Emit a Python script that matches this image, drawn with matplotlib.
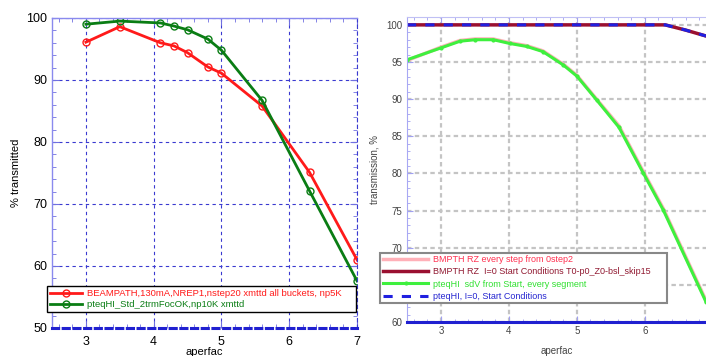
import matplotlib.pyplot as plt
from matplotlib.ticker import MultipleLocator

plt.rcParams['font.family'] = ['Liberation Sans', 'DejaVu Sans']

# left chart data
aperfac_l = [3.0, 3.5, 4.1, 4.3, 4.5, 4.8, 5.0, 5.6, 6.3, 7.0]
beampath = [96.1, 98.6, 96.0, 95.5, 94.4, 92.1, 91.1, 85.8, 75.1, 61.0]
pteqhi = [99.0, 99.5, 99.2, 98.7, 98.1, 96.6, 94.8, 86.7, 72.1, 57.6]
label_bp = "BEAMPATH,130mA,NREP1,nstep20 xmttd all buckets, np5K"
label_pt = "pteqHI_Std_2trmFocOK,np10K xmttd"

# right chart data
aperfac_r = [2.5, 3.0, 3.28, 3.5, 3.77, 4.01, 4.26, 4.5, 4.8, 5.0, 5.29, 5.62, 5.98, 6.27, 6.9]
rz_every = [95.2, 97.0, 97.9, 98.1, 98.1, 97.6, 97.2, 96.5, 94.7, 93.2, 90.0, 86.4, 80.2, 75.3, 62.9]
pteq_every = [95.3, 96.9, 97.8, 98.0, 98.0, 97.5, 97.1, 96.4, 94.6, 93.1, 89.9, 86.2, 80.0, 75.1, 62.7]
aperfac_i0 = [2.5, 3.0, 3.5, 4.0, 4.5, 5.0, 5.5, 6.0, 6.3, 6.6, 6.9]
rz_i0 = [100, 100, 100, 100, 100, 100, 100, 100, 100, 99.3, 98.5]
pteq_i0 = [100, 100, 100, 100, 100, 100, 100, 100, 100, 99.3, 98.5]
labels_r = ["BMPTH RZ every step from 0step2",
            "BMPTH RZ  I=0 Start Conditions T0-p0_Z0-bsl_skip15",
            "pteqHI  sdV from Start, every segment",
            "pteqHI, I=0, Start Conditions"]

fig = plt.figure(figsize=(7.06, 3.56), dpi=100)

# ---------- left ----------
ax = fig.add_axes([52 / 706, 28 / 356, 305 / 706, 310 / 356])
ax.plot(aperfac_l, beampath, color='#ff1a1a', lw=2, marker='o', ms=5,
        mfc='none', mec='#ff1a1a', mew=1, label=label_bp)
ax.plot(aperfac_l, pteqhi, color='#0a7d14', lw=2, marker='o', ms=5,
        mfc='none', mec='#0a7d14', mew=1, label=label_pt)
ax.set_xlim(2.5, 7)
ax.set_ylim(50, 100)
ax.xaxis.set_major_locator(MultipleLocator(1))
ax.xaxis.set_minor_locator(MultipleLocator(0.2))
ax.yaxis.set_major_locator(MultipleLocator(10))
ax.yaxis.set_minor_locator(MultipleLocator(2))
ax.grid(True, which='major', color='#3a3ad0', ls=(0, (3, 3)), lw=0.8)
ax.tick_params(which='both', direction='in', color='#7070e0', labelsize=9,
               top=True, right=True)
ax.tick_params(which='major', length=5)
ax.tick_params(which='minor', length=3)
ax.tick_params(axis='x', pad=6)
for s in ['left', 'top']:
    ax.spines[s].set_color('#8a8aee')
    ax.spines[s].set_linewidth(1)
ax.spines['right'].set_color('#3a3ad0')
ax.spines['right'].set_linestyle((0, (3, 3)))
ax.spines['bottom'].set_color('#2020d0')
ax.spines['bottom'].set_linestyle((0, (2, 1.5)))
ax.spines['bottom'].set_linewidth(2.2)
ax.set_xlabel('aperfac', fontsize=8, labelpad=-1)
ax.set_ylabel('% transmitted', fontsize=8, labelpad=4)
leg = ax.legend(loc='lower left', bbox_to_anchor=(-0.033, 0.035, 1.045, 0.095),
                mode='expand', fontsize=6.8, handlelength=3.4, handletextpad=0.5,
                borderpad=0.35, labelspacing=0.2, fancybox=False,
                framealpha=1, edgecolor='black')
leg.get_frame().set_linewidth(1)
for t, c in zip(leg.get_texts(), ['#ff1a1a', '#0a7d14']):
    t.set_color(c)

# ---------- right ----------
ax2 = fig.add_axes([407 / 706, 34 / 356, 299 / 706, 305.3 / 356])
ax2.plot(aperfac_r, rz_every, color='#ffb0b8', lw=2.5, label=labels_r[0])
ax2.plot(aperfac_i0, rz_i0, color='#9a1030', lw=2.5, label=labels_r[1])
ax2.plot(aperfac_r, pteq_every, color='#3ef03e', lw=2.2, marker='o', ms=2,
         label=labels_r[2])
ax2.plot(aperfac_i0, pteq_i0, color='#2020e0', lw=2.2, ls=(0, (3, 3)),
         label=labels_r[3])
ax2.set_xlim(2.5, 6.9)
ax2.set_ylim(60, 101.1)
ax2.xaxis.set_major_locator(MultipleLocator(1))
ax2.xaxis.set_minor_locator(MultipleLocator(0.2))
ax2.yaxis.set_major_locator(MultipleLocator(5))
ax2.yaxis.set_minor_locator(MultipleLocator(1))
ax2.grid(True, which='major', color='#c4c4c4', ls=(0, (2, 1.5)), lw=1.6)
ax2.tick_params(which='both', direction='in', color='#a0a0f0', labelsize=7,
                labelcolor='#444444', top=True, right=False)
ax2.tick_params(which='major', length=4)
ax2.tick_params(which='minor', length=2.5)
ax2.tick_params(axis='x', pad=3)
ax2.spines['left'].set_color('#a8a8f4')
ax2.spines['top'].set_color('#c0c0f4')
ax2.spines['right'].set_visible(False)
ax2.spines['bottom'].set_color('#2020d0')
ax2.spines['bottom'].set_linestyle((0, (1.5, 1)))
ax2.spines['bottom'].set_linewidth(2.2)
ax2.set_xlabel('aperfac', fontsize=7, color='#444444', labelpad=7)
ax2.set_ylabel('transmission, %', fontsize=7, color='#444444', labelpad=5)
leg2 = ax2.legend(loc='lower left', bbox_to_anchor=(-0.104, 0.046, 0.99, 0.19),
                  mode='expand', fontsize=6.5, handlelength=5, handletextpad=0.5,
                  borderpad=0.3, labelspacing=0.35, fancybox=False,
                  framealpha=1, edgecolor='#888888')
leg2.get_frame().set_linewidth(1.5)
for t, c in zip(leg2.get_texts(), ['#ff3050', '#901830', '#30e030', '#2525d0']):
    t.set_color(c)

fig.savefig('out.png', dpi=100)
